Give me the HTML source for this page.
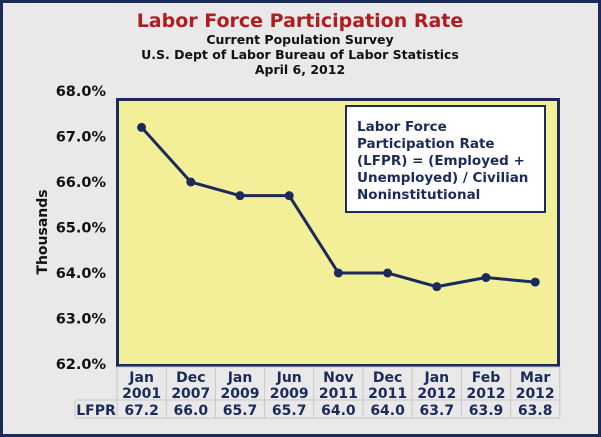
<!DOCTYPE html>
<html><head><meta charset="utf-8"><style>
html,body{margin:0;padding:0;background:#e8e8e8;}
svg{display:block;font-family:"DejaVu Sans","Liberation Sans",sans-serif;}
</style></head><body>
<svg id="chart" width="601" height="437" viewBox="0 0 601 437">
<rect x="1.5" y="1.5" width="598" height="434" fill="#e9e9ea" stroke="#1b2a5a" stroke-width="3"/>
<text x="300" y="27" text-anchor="middle" font-size="19" font-weight="bold" fill="#b01c22">Labor Force Participation Rate</text>
<text x="300" y="44" text-anchor="middle" font-size="12.5" font-weight="bold" fill="#111">Current Population Survey</text>
<text x="300" y="59" text-anchor="middle" font-size="12.5" font-weight="bold" fill="#111">U.S. Dept of Labor Bureau of Labor Statistics</text>
<text x="300" y="74" text-anchor="middle" font-size="12.5" font-weight="bold" fill="#111">April 6, 2012</text>
<rect x="117.5" y="99.5" width="441" height="266" fill="#f3ef98" stroke="#1b2a5a" stroke-width="3"/>
<text transform="translate(47,232) rotate(-90)" text-anchor="middle" font-size="14" font-weight="bold" fill="#111">Thousands</text>
<g id="yticks"></g>
<g id="series"></g>
<rect x="346" y="106" width="199" height="106" fill="#fff" stroke="#1b2a5a" stroke-width="2"/>
<g font-size="13.5" font-weight="bold" fill="#1b2a5a">
<text x="357" y="131">Labor Force</text>
<text x="357" y="148">Participation Rate</text>
<text x="357" y="165">(LFPR) = (Employed +</text>
<text x="357" y="182">Unemployed) / Civilian</text>
<text x="357" y="199">Noninstitutional</text>
</g>
<g id="table"></g>
</svg>
<script>
const months = ["Jan","Dec","Jan","Jun","Nov","Dec","Jan","Feb","Mar"];
const years = ["2001","2007","2009","2009","2011","2011","2012","2012","2012"];
const values = [67.2,66.0,65.7,65.7,64.0,64.0,63.7,63.9,63.8];
const yTicks = [62,63,64,65,66,67,68];
const NS="http://www.w3.org/2000/svg";
const x0=117,colW=49.2;
const xs=i=>x0+colW*(i+0.5);
const ys=v=>364-(v-62)*45.5;
function mk(t,a,p){const e=document.createElementNS(NS,t);for(const k in a)e.setAttribute(k,a[k]);p.appendChild(e);return e;}
const yt=document.getElementById('yticks');
yTicks.forEach(v=>{const t=mk('text',{x:106,y:ys(v)+5,'text-anchor':'end','font-size':14.5,'font-weight':'bold',fill:'#111'},yt);


t.textContent=v.toFixed(1)+'%';});
const sg=document.getElementById('series');
const line=mk('polyline',{points:values.map((v,i)=>xs(i)+','+ys(v)).join(' '),fill:'none',stroke:'#1b2a5a','stroke-width':3},sg);


values.forEach((v,i)=>{const c=mk('circle',{cx:xs(i),cy:ys(v),r:4.5,fill:'#1b2a5a'},sg);

});
const tg=document.getElementById('table');
const head=mk('rect',{x:x0,y:367,width:colW*9,height:33,fill:'#e9e9ea',stroke:'#c8c8c8','stroke-width':1},tg);


const row=mk('rect',{x:75,y:400,width:x0-75+colW*9,height:18,fill:'#e9e9ea',stroke:'#c8c8c8','stroke-width':1},tg);


const lab=mk('text',{x:96,y:415,'text-anchor':'middle','font-size':14,'font-weight':'bold',fill:'#1b2a5a'},tg);


lab.textContent='LFPR';
mk('line',{x1:x0,y1:400,x2:x0,y2:418,stroke:'#c8c8c8'},tg);
months.forEach((m,i)=>{
  const xl=x0+colW*(i+1);
  mk('line',{x1:xl,y1:367,x2:xl,y2:418,stroke:'#c8c8c8'},tg);
  const t1=mk('text',{x:xs(i),y:382,'text-anchor':'middle','font-size':14,'font-weight':'bold',fill:'#1b2a5a'},tg);
  
  
  t1.textContent=m;
  const t2=mk('text',{x:xs(i),y:398,'text-anchor':'middle','font-size':14,'font-weight':'bold',fill:'#1b2a5a'},tg);
  
  
  t2.textContent=years[i];
  const t3=mk('text',{x:xs(i),y:415,'text-anchor':'middle','font-size':14,'font-weight':'bold',fill:'#1b2a5a'},tg);
  
  
  t3.textContent=values[i].toFixed(1);
});
</script>
</body></html>
